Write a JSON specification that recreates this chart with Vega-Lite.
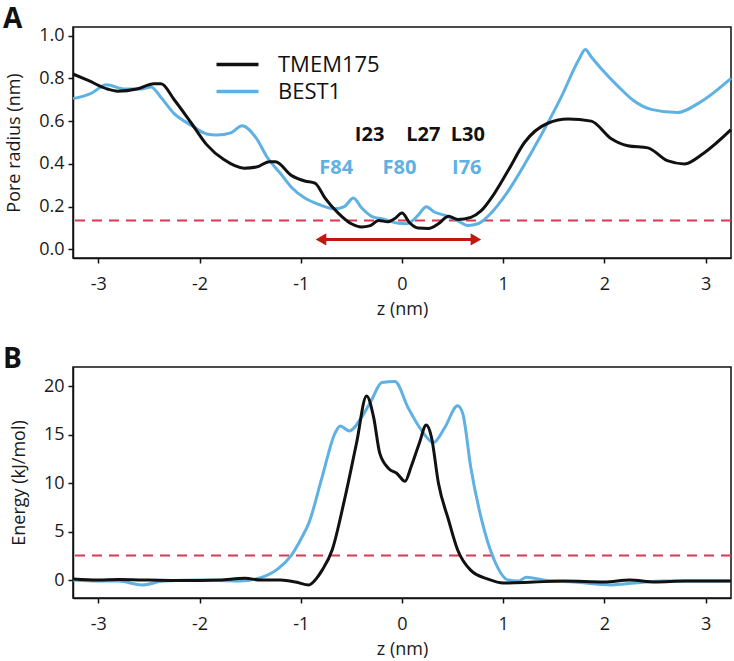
{
  "$schema": "https://vega.github.io/schema/vega-lite/v6.json",
  "background": "white",
  "padding": {"left": 2, "top": 4, "right": 3, "bottom": 2},
  "spacing": 26,
  "config": {
    "font": "Open Sans",
    "view": {"stroke": "#111111", "strokeWidth": 1.5},
    "axis": {
      "labelFont": "Open Sans", "labelFontSize": 18, "labelColor": "#1a1a1a",
      "titleFont": "Open Sans", "titleFontSize": 18, "titleFontWeight": "normal", "titleColor": "#1a1a1a",
      "tickColor": "#111111", "tickSize": 5, "tickWidth": 1.5,
      "domainColor": "#111111", "domainWidth": 1.5, "grid": false,
      "labelPadding": 4, "titlePadding": 15
    },
    "axisX": {"labelPadding": 12, "titlePadding": 7, "labelExpr": "'' + datum.value"}
  },
  "datasets": {
    "radius": [
      {"protein": "BEST1", "z": -3.25, "r": 0.705},
      {"protein": "BEST1", "z": -3.07, "r": 0.73},
      {"protein": "BEST1", "z": -2.92, "r": 0.77},
      {"protein": "BEST1", "z": -2.74, "r": 0.75},
      {"protein": "BEST1", "z": -2.58, "r": 0.75},
      {"protein": "BEST1", "z": -2.48, "r": 0.76},
      {"protein": "BEST1", "z": -2.38, "r": 0.71},
      {"protein": "BEST1", "z": -2.25, "r": 0.635},
      {"protein": "BEST1", "z": -2.08, "r": 0.58},
      {"protein": "BEST1", "z": -1.93, "r": 0.54},
      {"protein": "BEST1", "z": -1.83, "r": 0.535},
      {"protein": "BEST1", "z": -1.69, "r": 0.545},
      {"protein": "BEST1", "z": -1.58, "r": 0.578},
      {"protein": "BEST1", "z": -1.44, "r": 0.52},
      {"protein": "BEST1", "z": -1.33, "r": 0.43},
      {"protein": "BEST1", "z": -1.2, "r": 0.355},
      {"protein": "BEST1", "z": -1.09, "r": 0.29},
      {"protein": "BEST1", "z": -0.96, "r": 0.24},
      {"protein": "BEST1", "z": -0.82, "r": 0.21},
      {"protein": "BEST1", "z": -0.66, "r": 0.19},
      {"protein": "BEST1", "z": -0.57, "r": 0.2},
      {"protein": "BEST1", "z": -0.48, "r": 0.24},
      {"protein": "BEST1", "z": -0.4, "r": 0.195},
      {"protein": "BEST1", "z": -0.3, "r": 0.155},
      {"protein": "BEST1", "z": -0.17, "r": 0.14},
      {"protein": "BEST1", "z": -0.035, "r": 0.122},
      {"protein": "BEST1", "z": 0.045, "r": 0.12},
      {"protein": "BEST1", "z": 0.16, "r": 0.16},
      {"protein": "BEST1", "z": 0.24, "r": 0.2},
      {"protein": "BEST1", "z": 0.32, "r": 0.175},
      {"protein": "BEST1", "z": 0.42, "r": 0.16},
      {"protein": "BEST1", "z": 0.55, "r": 0.135},
      {"protein": "BEST1", "z": 0.65, "r": 0.112},
      {"protein": "BEST1", "z": 0.75, "r": 0.12},
      {"protein": "BEST1", "z": 0.88, "r": 0.17},
      {"protein": "BEST1", "z": 1.0, "r": 0.24},
      {"protein": "BEST1", "z": 1.31, "r": 0.48},
      {"protein": "BEST1", "z": 1.57, "r": 0.71},
      {"protein": "BEST1", "z": 1.75, "r": 0.89},
      {"protein": "BEST1", "z": 1.81, "r": 0.935},
      {"protein": "BEST1", "z": 1.87, "r": 0.9},
      {"protein": "BEST1", "z": 1.96, "r": 0.85},
      {"protein": "BEST1", "z": 2.13, "r": 0.765},
      {"protein": "BEST1", "z": 2.29, "r": 0.695},
      {"protein": "BEST1", "z": 2.46, "r": 0.655},
      {"protein": "BEST1", "z": 2.72, "r": 0.64},
      {"protein": "BEST1", "z": 2.95, "r": 0.69},
      {"protein": "BEST1", "z": 3.25, "r": 0.8},
      {"protein": "TMEM175", "z": -3.25, "r": 0.82},
      {"protein": "TMEM175", "z": -3.1, "r": 0.79},
      {"protein": "TMEM175", "z": -2.91, "r": 0.75},
      {"protein": "TMEM175", "z": -2.81, "r": 0.74},
      {"protein": "TMEM175", "z": -2.62, "r": 0.75},
      {"protein": "TMEM175", "z": -2.45, "r": 0.775},
      {"protein": "TMEM175", "z": -2.38, "r": 0.775},
      {"protein": "TMEM175", "z": -2.25, "r": 0.7},
      {"protein": "TMEM175", "z": -2.08, "r": 0.59},
      {"protein": "TMEM175", "z": -1.93, "r": 0.49},
      {"protein": "TMEM175", "z": -1.76, "r": 0.42},
      {"protein": "TMEM175", "z": -1.56, "r": 0.38},
      {"protein": "TMEM175", "z": -1.44, "r": 0.385},
      {"protein": "TMEM175", "z": -1.31, "r": 0.41},
      {"protein": "TMEM175", "z": -1.25, "r": 0.41},
      {"protein": "TMEM175", "z": -1.09, "r": 0.345},
      {"protein": "TMEM175", "z": -0.96, "r": 0.32},
      {"protein": "TMEM175", "z": -0.86, "r": 0.31},
      {"protein": "TMEM175", "z": -0.76, "r": 0.24},
      {"protein": "TMEM175", "z": -0.63, "r": 0.17},
      {"protein": "TMEM175", "z": -0.5, "r": 0.12},
      {"protein": "TMEM175", "z": -0.4, "r": 0.105},
      {"protein": "TMEM175", "z": -0.32, "r": 0.11},
      {"protein": "TMEM175", "z": -0.23, "r": 0.135},
      {"protein": "TMEM175", "z": -0.14, "r": 0.13},
      {"protein": "TMEM175", "z": -0.07, "r": 0.145},
      {"protein": "TMEM175", "z": 0.0, "r": 0.17},
      {"protein": "TMEM175", "z": 0.075, "r": 0.125},
      {"protein": "TMEM175", "z": 0.16, "r": 0.1},
      {"protein": "TMEM175", "z": 0.26, "r": 0.098},
      {"protein": "TMEM175", "z": 0.36, "r": 0.12},
      {"protein": "TMEM175", "z": 0.46, "r": 0.155},
      {"protein": "TMEM175", "z": 0.55, "r": 0.14},
      {"protein": "TMEM175", "z": 0.68, "r": 0.15},
      {"protein": "TMEM175", "z": 0.78, "r": 0.18},
      {"protein": "TMEM175", "z": 0.91, "r": 0.26},
      {"protein": "TMEM175", "z": 1.05, "r": 0.37},
      {"protein": "TMEM175", "z": 1.21, "r": 0.5},
      {"protein": "TMEM175", "z": 1.44, "r": 0.59},
      {"protein": "TMEM175", "z": 1.64, "r": 0.61},
      {"protein": "TMEM175", "z": 1.87, "r": 0.6},
      {"protein": "TMEM175", "z": 2.06, "r": 0.52},
      {"protein": "TMEM175", "z": 2.23, "r": 0.485},
      {"protein": "TMEM175", "z": 2.43, "r": 0.475},
      {"protein": "TMEM175", "z": 2.62, "r": 0.415},
      {"protein": "TMEM175", "z": 2.79, "r": 0.4},
      {"protein": "TMEM175", "z": 2.98, "r": 0.45},
      {"protein": "TMEM175", "z": 3.25, "r": 0.56}
    ],
    "energy": [
      {"protein": "BEST1", "z": -3.25, "E": 0.0},
      {"protein": "BEST1", "z": -3.0, "E": -0.1},
      {"protein": "BEST1", "z": -2.8, "E": -0.1},
      {"protein": "BEST1", "z": -2.57, "E": -0.5},
      {"protein": "BEST1", "z": -2.35, "E": -0.1},
      {"protein": "BEST1", "z": -2.0, "E": 0.0},
      {"protein": "BEST1", "z": -1.6, "E": -0.1},
      {"protein": "BEST1", "z": -1.38, "E": 0.3},
      {"protein": "BEST1", "z": -1.22, "E": 1.2},
      {"protein": "BEST1", "z": -1.09, "E": 2.6},
      {"protein": "BEST1", "z": -0.99, "E": 4.4},
      {"protein": "BEST1", "z": -0.92, "E": 5.9},
      {"protein": "BEST1", "z": -0.79, "E": 10.6},
      {"protein": "BEST1", "z": -0.66, "E": 15.2},
      {"protein": "BEST1", "z": -0.61, "E": 15.9},
      {"protein": "BEST1", "z": -0.52, "E": 15.4},
      {"protein": "BEST1", "z": -0.4, "E": 16.8},
      {"protein": "BEST1", "z": -0.3, "E": 18.6},
      {"protein": "BEST1", "z": -0.2, "E": 20.4},
      {"protein": "BEST1", "z": -0.07, "E": 20.5},
      {"protein": "BEST1", "z": 0.06, "E": 17.8},
      {"protein": "BEST1", "z": 0.19, "E": 15.5},
      {"protein": "BEST1", "z": 0.31, "E": 14.2},
      {"protein": "BEST1", "z": 0.42, "E": 15.7},
      {"protein": "BEST1", "z": 0.55, "E": 18.0},
      {"protein": "BEST1", "z": 0.6, "E": 17.2},
      {"protein": "BEST1", "z": 0.68, "E": 11.6},
      {"protein": "BEST1", "z": 0.78, "E": 6.5},
      {"protein": "BEST1", "z": 0.91, "E": 2.1},
      {"protein": "BEST1", "z": 1.05, "E": 0.0},
      {"protein": "BEST1", "z": 1.15, "E": -0.1},
      {"protein": "BEST1", "z": 1.23, "E": 0.3},
      {"protein": "BEST1", "z": 1.4, "E": 0.0},
      {"protein": "BEST1", "z": 1.7, "E": -0.2},
      {"protein": "BEST1", "z": 2.07, "E": -0.5},
      {"protein": "BEST1", "z": 2.3, "E": -0.3},
      {"protein": "BEST1", "z": 2.6, "E": -0.1},
      {"protein": "BEST1", "z": 3.25, "E": -0.1},
      {"protein": "TMEM175", "z": -3.25, "E": 0.1},
      {"protein": "TMEM175", "z": -3.0, "E": 0.0},
      {"protein": "TMEM175", "z": -2.8, "E": 0.05},
      {"protein": "TMEM175", "z": -2.5, "E": 0.0},
      {"protein": "TMEM175", "z": -2.2, "E": -0.05},
      {"protein": "TMEM175", "z": -2.0, "E": -0.05},
      {"protein": "TMEM175", "z": -1.8, "E": 0.0},
      {"protein": "TMEM175", "z": -1.55, "E": 0.2},
      {"protein": "TMEM175", "z": -1.4, "E": 0.0},
      {"protein": "TMEM175", "z": -1.2, "E": 0.0},
      {"protein": "TMEM175", "z": -1.05, "E": -0.2},
      {"protein": "TMEM175", "z": -0.92, "E": -0.5},
      {"protein": "TMEM175", "z": -0.85, "E": 0.1},
      {"protein": "TMEM175", "z": -0.79, "E": 1.0},
      {"protein": "TMEM175", "z": -0.69, "E": 3.1},
      {"protein": "TMEM175", "z": -0.57, "E": 8.2},
      {"protein": "TMEM175", "z": -0.45, "E": 14.1},
      {"protein": "TMEM175", "z": -0.35, "E": 19.0},
      {"protein": "TMEM175", "z": -0.28, "E": 16.8},
      {"protein": "TMEM175", "z": -0.22, "E": 13.1},
      {"protein": "TMEM175", "z": -0.13, "E": 11.5},
      {"protein": "TMEM175", "z": -0.05, "E": 11.0},
      {"protein": "TMEM175", "z": 0.03, "E": 10.2},
      {"protein": "TMEM175", "z": 0.09, "E": 11.7},
      {"protein": "TMEM175", "z": 0.17, "E": 14.1},
      {"protein": "TMEM175", "z": 0.24, "E": 16.0},
      {"protein": "TMEM175", "z": 0.29, "E": 14.8},
      {"protein": "TMEM175", "z": 0.36, "E": 10.0},
      {"protein": "TMEM175", "z": 0.46, "E": 6.2},
      {"protein": "TMEM175", "z": 0.55, "E": 3.1},
      {"protein": "TMEM175", "z": 0.68, "E": 1.0},
      {"protein": "TMEM175", "z": 0.85, "E": 0.1},
      {"protein": "TMEM175", "z": 1.0, "E": -0.3},
      {"protein": "TMEM175", "z": 1.3, "E": -0.2},
      {"protein": "TMEM175", "z": 1.6, "E": -0.1},
      {"protein": "TMEM175", "z": 2.0, "E": -0.2},
      {"protein": "TMEM175", "z": 2.25, "E": 0.0},
      {"protein": "TMEM175", "z": 2.5, "E": -0.2},
      {"protein": "TMEM175", "z": 2.8, "E": -0.1},
      {"protein": "TMEM175", "z": 3.25, "E": -0.1}
    ],
    "thresholdA": [{"r": 0.135}],
    "thresholdB": [{"E": 2.55}],
    "arrowLine": [{"z": -0.8, "z2": 0.73, "r": 0.047}],
    "arrowHeads": [{"z": -0.8, "r": 0.047, "dir": "left"}, {"z": 0.73, "r": 0.047, "dir": "right"}],
    "residues": [
      {"protein": "TMEM175", "z": -0.32, "r": 0.533, "label": "I23"},
      {"protein": "TMEM175", "z": 0.21, "r": 0.533, "label": "L27"},
      {"protein": "TMEM175", "z": 0.65, "r": 0.533, "label": "L30"},
      {"protein": "BEST1", "z": -0.65, "r": 0.383, "label": "F84"},
      {"protein": "BEST1", "z": -0.025, "r": 0.383, "label": "F80"},
      {"protein": "BEST1", "z": 0.64, "r": 0.383, "label": "I76"}
    ]
  },
  "resolve": {"legend": {"color": "independent"}},
  "vconcat": [
    {
      "width": 658,
      "height": 231,
      "title": {"text": "A", "anchor": "start", "frame": "group", "fontSize": 28, "fontWeight": "bold", "font": "Open Sans", "color": "#111111", "dx": -70, "offset": -7},
      "layer": [
        {
          "data": {"name": "thresholdA"},
          "mark": {"type": "rule", "strokeDash": [10, 7], "strokeWidth": 2, "color": "#D63A52"},
          "encoding": {"y": {"field": "r", "type": "quantitative"}}
        },
        {
          "data": {"name": "radius"},
          "mark": {"type": "line", "strokeWidth": 3, "interpolate": "monotone"},
          "encoding": {
            "x": {"field": "z", "type": "quantitative", "title": "z (nm)", "scale": {"domain": [-3.25, 3.25], "nice": false, "zero": false}, "axis": {"values": [-3, -2, -1, 0, 1, 2, 3]}},
            "y": {"field": "r", "type": "quantitative", "title": "Pore radius (nm)", "scale": {"domain": [-0.04, 1.04], "nice": false, "zero": false}, "axis": {"values": [0, 0.2, 0.4, 0.6, 0.8, 1.0], "format": ".1f"}},
            "color": {
              "field": "protein", "type": "nominal",
              "scale": {"domain": ["TMEM175", "BEST1"], "range": ["#111111", "#5EB1E2"]},
              "legend": {"orient": "none", "legendX": 152, "legendY": 25, "title": null, "symbolType": "M-2,0H2", "symbolSize": 441, "symbolStrokeWidth": 3.5, "labelFontSize": 22, "labelFont": "Open Sans", "labelColor": "#111111", "rowPadding": 3, "labelOffset": 28}
            }
          }
        },
        {
          "data": {"name": "arrowLine"},
          "mark": {"type": "rule", "strokeWidth": 3, "color": "#C0180F"},
          "encoding": {
            "x": {"field": "z", "type": "quantitative", "title": "z (nm)"},
            "x2": {"field": "z2"},
            "y": {"field": "r", "type": "quantitative", "title": "Pore radius (nm)"}
          }
        },
        {
          "data": {"name": "arrowHeads"},
          "mark": {"type": "point", "filled": true, "opacity": 1, "size": 150, "color": "#C0180F"},
          "encoding": {
            "x": {"field": "z", "type": "quantitative", "title": "z (nm)"},
            "y": {"field": "r", "type": "quantitative", "title": "Pore radius (nm)"},
            "shape": {"field": "dir", "type": "nominal", "scale": {"domain": ["left", "right"], "range": ["triangle-left", "triangle-right"]}, "legend": null}
          }
        },
        {
          "data": {"name": "residues"},
          "transform": [{"filter": "datum.protein === 'TMEM175'"}],
          "mark": {"type": "text", "fontSize": 20, "fontWeight": "bold", "font": "Open Sans", "color": "#111111"},
          "encoding": {
            "x": {"field": "z", "type": "quantitative", "title": "z (nm)"},
            "y": {"field": "r", "type": "quantitative", "title": "Pore radius (nm)"},
            "text": {"field": "label"}
          }
        },
        {
          "data": {"name": "residues"},
          "transform": [{"filter": "datum.protein === 'BEST1'"}],
          "mark": {"type": "text", "fontSize": 20, "fontWeight": "bold", "font": "Open Sans", "color": "#5EB1E2"},
          "encoding": {
            "x": {"field": "z", "type": "quantitative", "title": "z (nm)"},
            "y": {"field": "r", "type": "quantitative", "title": "Pore radius (nm)"},
            "text": {"field": "label"}
          }
        }
      ]
    },
    {
      "width": 658,
      "height": 231,
      "title": {"text": "B", "anchor": "start", "frame": "group", "fontSize": 28, "fontWeight": "bold", "font": "Open Sans", "color": "#111111", "dx": -70, "offset": -7},
      "layer": [
        {
          "data": {"name": "thresholdB"},
          "mark": {"type": "rule", "strokeDash": [10, 7], "strokeWidth": 2, "color": "#D63A52"},
          "encoding": {"y": {"field": "E", "type": "quantitative"}}
        },
        {
          "data": {"name": "energy"},
          "mark": {"type": "line", "strokeWidth": 3, "interpolate": "monotone"},
          "encoding": {
            "x": {"field": "z", "type": "quantitative", "title": "z (nm)", "scale": {"domain": [-3.25, 3.25], "nice": false, "zero": false}, "axis": {"values": [-3, -2, -1, 0, 1, 2, 3]}},
            "y": {"field": "E", "type": "quantitative", "title": "Energy (kJ/mol)", "scale": {"domain": [-1.85, 22], "nice": false, "zero": false}, "axis": {"values": [0, 5, 10, 15, 20]}},
            "color": {"field": "protein", "type": "nominal", "scale": {"domain": ["TMEM175", "BEST1"], "range": ["#111111", "#5EB1E2"]}, "legend": null}
          }
        }
      ]
    }
  ]
}
